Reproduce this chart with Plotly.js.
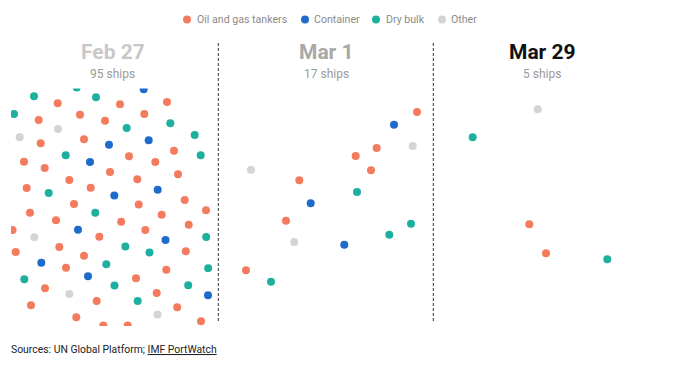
<!DOCTYPE html>
<html><head><meta charset="utf-8">
<script src="https://cdn.plot.ly/plotly-3.0.1.min.js"></script>
<style>html,body{margin:0;padding:0;background:#fff}#chart{width:675px;height:367px}</style>
</head><body><div id="chart"></div>
<script>
// ---- data ----
const categories = ['Oil and gas tankers', 'Container', 'Dry bulk', 'Other'];
const categoryColors = ['#F47B5E', '#1F6BCB', '#1DB09E', '#D4D4D4'];
const panelDates = ['Feb 27', 'Mar 1', 'Mar 29'];
const shipCounts = [95, 17, 5];

// ship positions (x: from panel's left edge, y: depth from top of dot area)
// type: 0 oil/gas tanker, 1 container, 2 dry bulk, 3 other
const feb27X = [76.7,34,96,57.7,14,80,38.7,105,58,19.7,40.7,84,109,65.7,24,90,44.7,110,69.3,26.7,90.7,48.7,114.3,74,
  143.7,120,167,144.3,126.7,170.3,194.7,148.7,174,200.7,129,155.3,178,137.3,157.7,184.7,138.7,
  30,95.3,56,12.5,34.3,78,99.3,59.3,15.7,84,41.3,66,106.3,24.3,88,114.5,45,69.3,96.7,31,76.3,103.3,
  206,161.7,121.2,188.7,145.3,165.5,206.2,125.3,149.5,185.8,166.3,208.2,136,188.2,156.7,208,137.7,177.2,157.5,201,127.7];
const feb27Y = [-0.5,8.3,9.3,15.3,26,26.7,32,32.7,41,49.3,55.3,51.3,56.7,67.3,73.7,74,80,84,92,100,99.7,105,107.5,116,
  1.3,16.3,14,26,40,35.3,47,52.3,62.7,67.3,68.3,74,86.3,91.3,101.7,112,116.5,
  124.7,124.7,132.3,142,149.3,141.7,148.7,159,164,167.7,174.7,179.7,176.3,191.3,188.3,197.5,200.3,206,213,217.3,229.3,237.5,
  122.3,126.7,133.7,136.7,142,152,149,158.5,164.5,163.3,181.7,180.2,190.3,197.2,205,207.2,213,219.3,226.5,233.2,237.5];
const feb27Type = [2,2,2,0,2,0,0,0,3,3,0,0,1,2,0,1,0,0,0,0,0,2,1,0,
  1,0,0,0,2,2,2,1,0,2,0,0,0,0,1,0,0,
  0,2,0,0,3,1,0,0,0,0,1,0,2,2,1,2,0,3,0,0,0,0,
  0,0,0,0,0,1,2,2,2,0,0,2,0,2,0,1,2,0,3,0,0];

const mar1X = [199,176,194.7,158.7,137.7,33,153,81.3,139,92.7,68,193,171.3,76.3,126.3,28,53];
const mar1Y = [24,36.7,58,60,68,81.7,82.3,92.3,104,115.3,132.7,135.7,146.7,154,156.7,182.3,193.7];
const mar1Type = [0,1,3,0,0,3,0,0,2,1,0,2,2,3,1,0,2];

const mar29X = [104.7,39.7,96.3,113,174.3];
const mar29Y = [21.3,49.3,136.3,165.3,171.3];
const mar29Type = [3,2,0,0,2];

// ---- layout geometry ----
const W = 675, H = 367;
const yTop = 88.5, yBottom = 326, yOff = 88;
const panels = [
  {left: 11, right: 212, off: 0, cx: 112.5},
  {left: 219, right: 433, off: 218, cx: 326},
  {left: 434, right: 675, off: 433, cx: 542}
];
const panelData = [[feb27X, feb27Y, feb27Type], [mar1X, mar1Y, mar1Type], [mar29X, mar29Y, mar29Type]];

const traces = [];
const layout = {
  width: W, height: H,
  margin: {l: 0, r: 0, t: 0, b: 0},
  paper_bgcolor: '#fff', plot_bgcolor: 'rgba(0,0,0,0)',
  showlegend: false,
  font: {family: 'Roboto, sans-serif'},
  annotations: [], shapes: []
};
const yDom = [(H - yBottom) / H, (H - yTop) / H];

panels.forEach((p, i) => {
  const sfx = i === 0 ? '' : String(i + 1);
  const [xs, ys, ts] = panelData[i];
  traces.push({
    type: 'scatter', mode: 'markers',
    x: xs, y: ys,
    xaxis: 'x' + sfx, yaxis: 'y' + sfx,
    marker: {size: 8, color: ts.map(t => categoryColors[t]), line: {width: 0}},
    hoverinfo: 'skip', cliponaxis: true
  });
  layout['xaxis' + sfx] = {
    domain: [p.left / W, p.right / W], range: [p.left - p.off, p.right - p.off],
    visible: false, fixedrange: true, anchor: 'y' + sfx
  };
  layout['yaxis' + sfx] = {
    domain: yDom, range: [yBottom - yOff, yTop - yOff],
    visible: false, fixedrange: true, anchor: 'x' + sfx
  };

  const titleColors = ['#C8C8C8', '#A8A8A8', '#111111'];
  layout.annotations.push({
    xref: 'paper', yref: 'paper', x: p.cx / W, y: (H - 52.5) / H,
    xanchor: 'center', yanchor: 'middle', showarrow: false,
    text: '<b>' + panelDates[i] + '</b>',
    font: {size: 21, color: titleColors[i], family: 'Roboto, sans-serif'}
  });
  layout.annotations.push({
    xref: 'paper', yref: 'paper', x: p.cx / W, y: (H - 73.5) / H,
    xanchor: 'center', yanchor: 'middle', showarrow: false,
    text: shipCounts[i] + ' ships',
    font: {size: 12, color: '#9A9A9A', family: 'Roboto, sans-serif'}
  });
});

// dividers
[218.3, 433.3].forEach(x => {
  layout.shapes.push({
    type: 'line', xref: 'paper', yref: 'paper',
    x0: x / W, x1: x / W, y0: (H - 43) / H, y1: (H - 323) / H,
    line: {color: '#333', width: 1, dash: '3px,2px'}
  });
});

// legend
const legendDotX = [187, 305, 376, 442];
const legendTextX = [194.5, 312, 383.5, 449];
const legendY = 19.5;
categories.forEach((c, i) => {
  layout.shapes.push({
    type: 'circle', xref: 'paper', yref: 'paper',
    xsizemode: 'pixel', ysizemode: 'pixel',
    xanchor: legendDotX[i] / W, yanchor: (H - legendY) / H,
    x0: -4, x1: 4, y0: -4, y1: 4,
    fillcolor: categoryColors[i], line: {width: 0}
  });
  layout.annotations.push({
    xref: 'paper', yref: 'paper', x: legendTextX[i] / W, y: (H - legendY) / H,
    xanchor: 'left', yanchor: 'middle', showarrow: false,
    text: c, font: {size: 10.6, color: '#8A8A8A', family: 'Roboto, sans-serif'}
  });
});

// source
layout.annotations.push({
  xref: 'paper', yref: 'paper', x: 9 / W, y: (H - 349) / H,
  xanchor: 'left', yanchor: 'middle', showarrow: false,
  text: 'Sources: UN Global Platform; <u>IMF PortWatch</u>',
  font: {size: 10.4, color: '#222', family: 'Roboto, sans-serif'}
});

Plotly.newPlot('chart', traces, layout, {staticPlot: true, displayModeBar: false});
</script></body></html>
